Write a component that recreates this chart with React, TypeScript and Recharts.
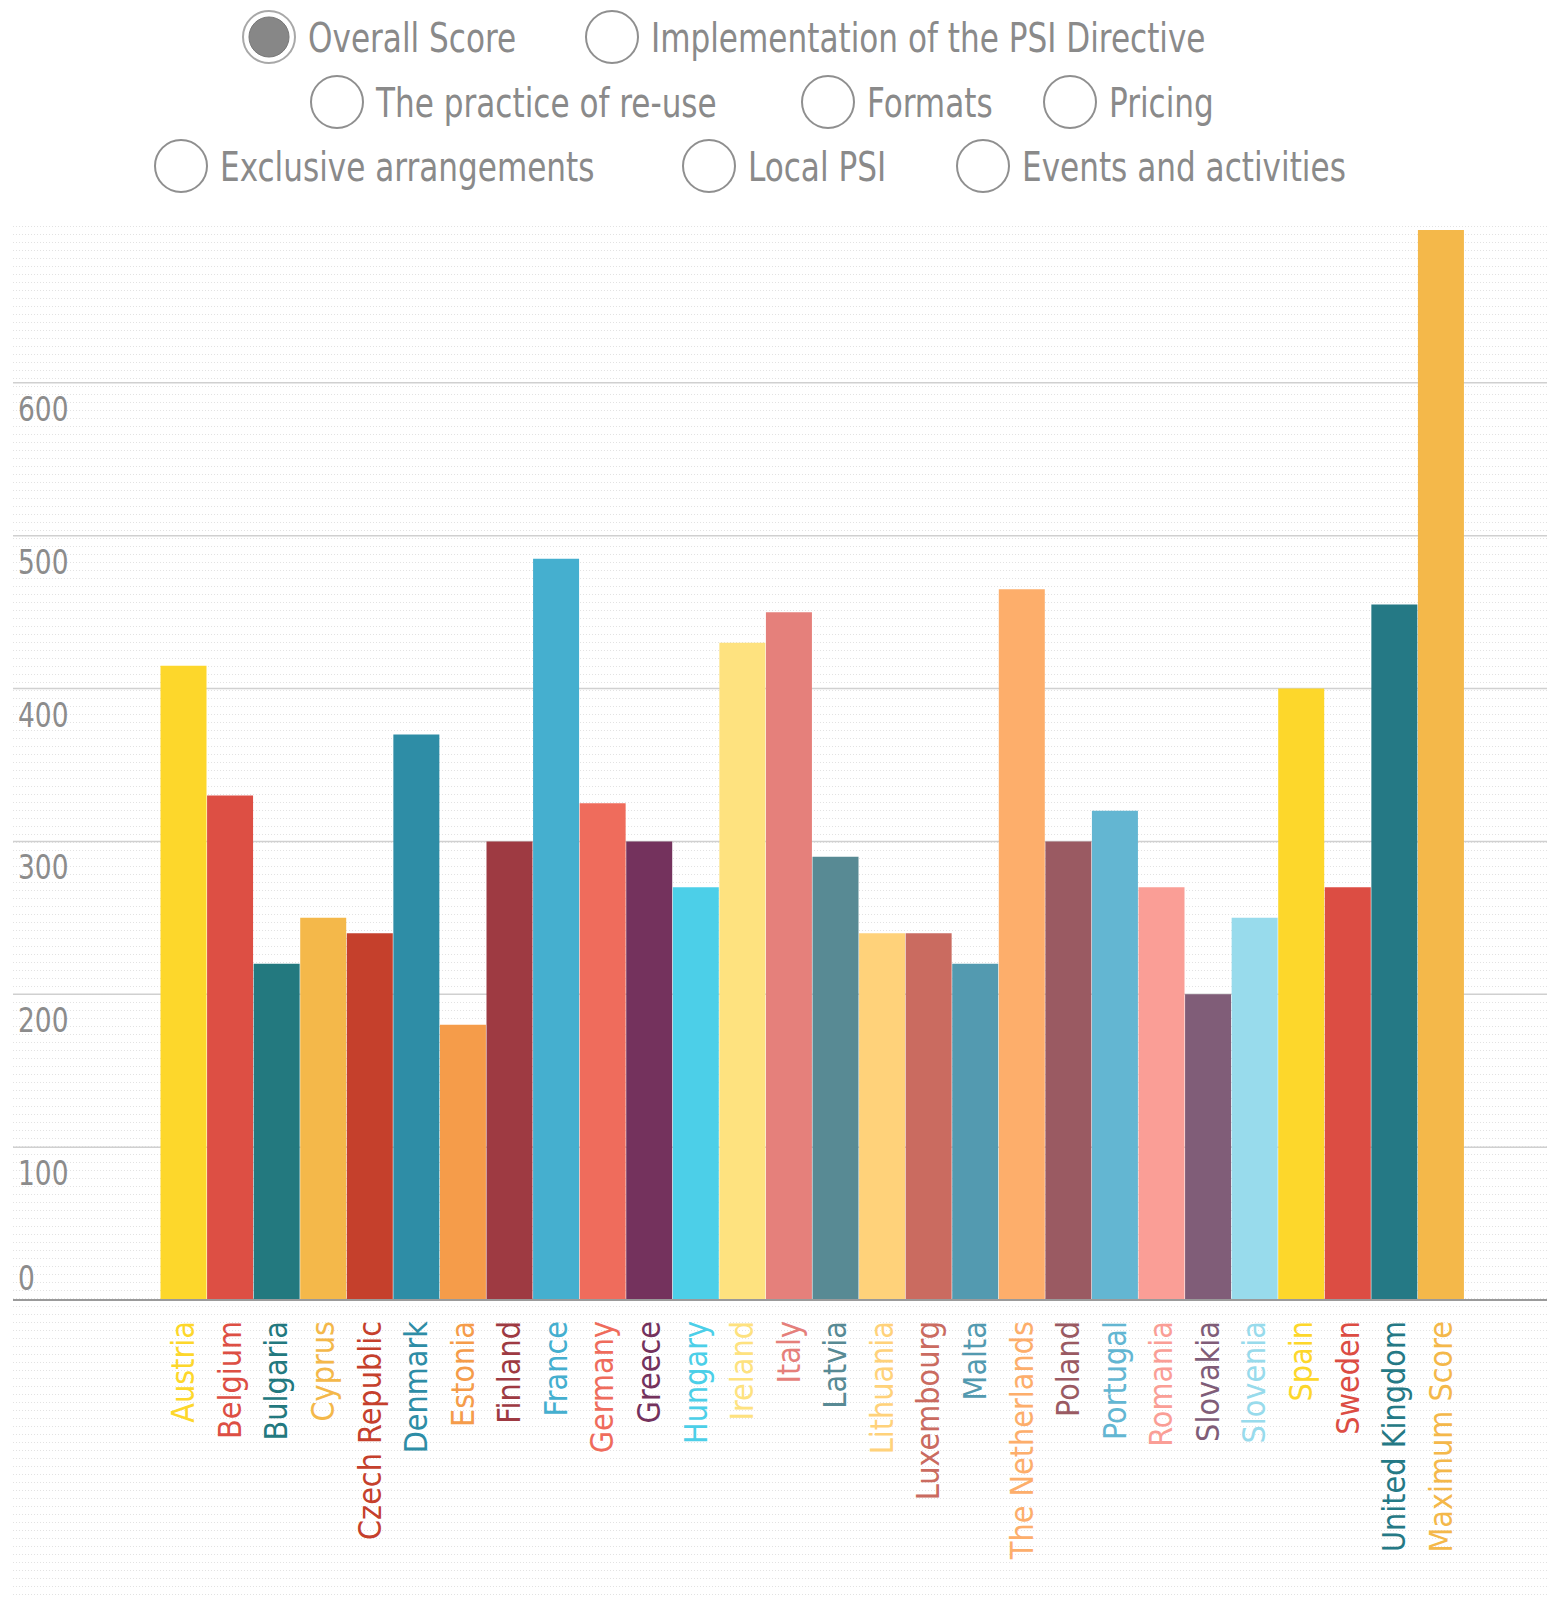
import React from 'react';
import { BarChart, Bar, XAxis, YAxis, CartesianGrid, Cell } from 'recharts';

const countries = [
  'Austria', 'Belgium', 'Bulgaria', 'Cyprus', 'Czech Republic', 'Denmark', 'Estonia',
  'Finland', 'France', 'Germany', 'Greece', 'Hungary', 'Ireland', 'Italy', 'Latvia',
  'Lithuania', 'Luxembourg', 'Malta', 'The Netherlands', 'Poland', 'Portugal', 'Romania',
  'Slovakia', 'Slovenia', 'Spain', 'Sweden', 'United Kingdom', 'Maximum Score',
];

const scores = [
  415, 330, 220, 250, 240, 370, 180, 300, 485, 325, 300, 270, 430, 450, 290,
  240, 240, 220, 465, 300, 320, 270, 200, 250, 400, 270, 455, 700,
];

const barColors = [
  '#FDD72B', '#DD4F44', '#23797F', '#F4B84A', '#C5402C', '#2E8DA6', '#F59C4A',
  '#9E3A42', '#45AFCF', '#EF6C5C', '#74325D', '#4CCFE8', '#FEE27F', '#E5807B', '#588A94',
  '#FFD27A', '#CA6B60', '#539AB0', '#FDAE6B', '#9A5A62', '#63B6D2', '#FA9E96',
  '#805D78', '#98DBEC', '#FDD72B', '#DC4D43', '#257985', '#F4B84A',
];

const yTicks = [0, 100, 200, 300, 400, 500, 600];

const legendItems = [
  'Overall Score', 'Implementation of the PSI Directive',
  'The practice of re-use', 'Formats', 'Pricing',
  'Exclusive arrangements', 'Local PSI', 'Events and activities',
];
const selectedItem = 'Overall Score';

// layout of the radio legend: circle centre x and row for each item
const legendLayout = [
  { cx: 269, row: 0 }, { cx: 612, row: 0 },
  { cx: 337, row: 1 }, { cx: 828, row: 1 }, { cx: 1070, row: 1 },
  { cx: 181, row: 2 }, { cx: 709, row: 2 }, { cx: 983, row: 2 },
];
const rowY = [37, 102, 166];

const data = countries.map((name, i) => ({ name, score: scores[i] }));

const W = 1547;
const H = 1598;
const font = "'DejaVu Sans Condensed', 'DejaVu Sans', sans-serif";
const squeeze = 0.865; // the original face is narrower than anything installed

const dots = `url("data:image/svg+xml,${encodeURIComponent(
  "<svg xmlns='http://www.w3.org/2000/svg' width='3' height='8'><rect width='1' height='1' fill='#e2e2e2'/></svg>"
)}")`;

const YTick = ({ y, payload }: any) => (
  <text
    transform={`translate(18,${payload.value === 0 ? y - 10 : y + 38}) scale(${squeeze},1)`}
    fill="#8c8c8c"
    fontSize={34}
    fontFamily={font}
    style={{ fontStretch: 'condensed' }}
  >
    {payload.value}
  </text>
);

const XTick = ({ x, y, payload, index }: any) => (
  <text
    transform={`translate(${x},${y + 21}) rotate(-90)`}
    textAnchor="end"
    dominantBaseline="central"
    fill={barColors[index]}
    fontSize={32}
    fontFamily={font}
    style={{ fontStretch: 'condensed' }}
  >
    {payload.value}
  </text>
);

function RadioLegend() {
  return (
    <svg width={W} height={215} style={{ position: 'absolute', left: 0, top: 0 }}>
      {legendItems.map((label, i) => {
        const { cx, row } = legendLayout[i];
        const cy = rowY[row];
        const on = label === selectedItem;
        return (
          <g key={label}>
            <circle cx={cx} cy={cy} r={26} fill="#fff" stroke={on ? '#a8a8a8' : '#8f8f8f'} strokeWidth={2} />
            {on && <circle cx={cx} cy={cy} r={20} fill="#878787" stroke="#777" strokeWidth={1} />}
            <text
              transform={`translate(${cx + 39},${cy + 15}) scale(${squeeze},1)`}
              fill="#8a8a8a"
              fontSize={40}
              fontFamily={font}
              style={{ fontStretch: 'condensed' }}
            >
              {label}
            </text>
          </g>
        );
      })}
    </svg>
  );
}

export default function App() {
  return (
    <div style={{ position: 'relative', width: W, height: H, background: '#fff', overflow: 'hidden' }}>
      <style>{'body{margin:0}'}</style>
      <div
        style={{
          position: 'absolute',
          left: 13,
          top: 226,
          right: 0,
          bottom: 0,
          backgroundImage: dots,
        }}
      />
      <div style={{ position: 'absolute', left: 0, top: 0 }}>
        <BarChart
          width={W}
          height={H}
          data={data}
          margin={{ top: 230, right: 0, left: 12, bottom: 0 }}
          barCategoryGap={0.5}
        >
          <CartesianGrid
            vertical={false}
            stroke="#d0d0d0"
            strokeWidth={1.5}
            horizontalValues={yTicks}
          />
          <XAxis
            dataKey="name"
            height={298}
            interval={0}
            padding={{ left: 147, right: 83 }}
            axisLine={{ stroke: '#9a9a9a', strokeWidth: 2 }}
            tickLine={false}
            tickSize={0}
            tickMargin={0}
            tick={<XTick />}
          />
          <YAxis
            width={1}
            domain={[0, 700]}
            ticks={yTicks}
            interval={0}
            axisLine={false}
            tickLine={false}
            tick={<YTick />}
          />
          <Bar dataKey="score" isAnimationActive={false}>
            {data.map((d, i) => (
              <Cell key={d.name} fill={barColors[i]} />
            ))}
          </Bar>
        </BarChart>
      </div>
      <RadioLegend />
    </div>
  );
}
